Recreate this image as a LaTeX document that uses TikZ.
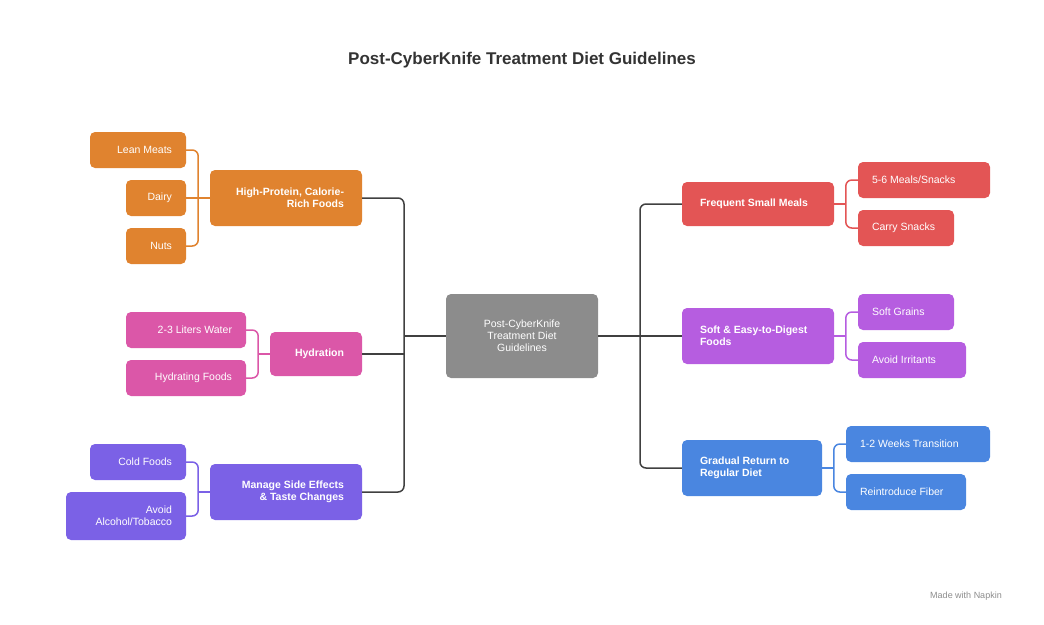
\documentclass[tikz,border=0pt]{standalone}
\usepackage{fontspec}
\setmainfont{Liberation Sans}
\usetikzlibrary{positioning}
\definecolor{corange}{HTML}{E0832F}
\definecolor{cpink}{HTML}{DB57A8}
\definecolor{cpurple}{HTML}{7B61E6}
\definecolor{cred}{HTML}{E35555}
\definecolor{cviolet}{HTML}{B65DE0}
\definecolor{cblue}{HTML}{4A86E0}
\definecolor{cgray}{HTML}{8C8C8C}
\definecolor{cline}{HTML}{404040}
\tikzset{
  box/.style={rectangle, rounded corners=4pt, text=white, inner sep=0pt, font=\fontsize{10.5}{12}\selectfont},
  mainbox/.style={box, font=\bfseries\fontsize{10.5}{12}\selectfont},
  link/.style={line width=1.5pt, rounded corners=6pt},
}
\newcommand{\bx}[7]{% name, x1, y1, x2, y2, colour, style
  \path[fill=#6, rounded corners=5pt] (#2,#3) rectangle (#4,#5);
  \node[#7] (#1) at ({(#2+#4)/2},{(#3+#5)/2}) [minimum width={#4-#2}, minimum height={#5-#3}] {};
}
\begin{document}
\begin{tikzpicture}[x=1pt,y=-1pt]
\useasboundingbox (0,0) rectangle (1044,624);
\node[font=\bfseries\fontsize{17}{20}\selectfont, text=black!80] (title) at (522,60) {Post-CyberKnife Treatment Diet Guidelines};

% boxes
\bx{center}{446}{294}{598}{378}{cgray}{box}
\bx{hp}{210}{170}{362}{226}{corange}{box}
\bx{lean}{90}{132}{186}{168}{corange}{box}
\bx{dairy}{126}{180}{186}{216}{corange}{box}
\bx{nuts}{126}{228}{186}{264}{corange}{box}
\bx{hyd}{270}{332}{362}{376}{cpink}{box}
\bx{water}{126}{312}{246}{348}{cpink}{box}
\bx{hfood}{126}{360}{246}{396}{cpink}{box}
\bx{side}{210}{464}{362}{520}{cpurple}{box}
\bx{cold}{90}{444}{186}{480}{cpurple}{box}
\bx{alc}{66}{492}{186}{540}{cpurple}{box}
\bx{meals}{682}{182}{834}{226}{cred}{box}
\bx{five}{858}{162}{990}{198}{cred}{box}
\bx{carry}{858}{210}{954}{246}{cred}{box}
\bx{soft}{682}{308}{834}{364}{cviolet}{box}
\bx{grains}{858}{294}{954}{330}{cviolet}{box}
\bx{irr}{858}{342}{966}{378}{cviolet}{box}
\bx{grad}{682}{440}{822}{496}{cblue}{box}
\bx{weeks}{846}{426}{990}{462}{cblue}{box}
\bx{fiber}{846}{474}{966}{510}{cblue}{box}

% texts
\node[box, align=center] at (center) {Post-CyberKnife\\Treatment Diet\\Guidelines};
\node[mainbox, align=right, anchor=east] at ([xshift=-18pt]hp.east) {High-Protein, Calorie-\\Rich Foods};
\node[box, anchor=east] at ([xshift=-14pt]lean.east) {Lean Meats};
\node[box, anchor=east] at ([xshift=-14pt]dairy.east) {Dairy};
\node[box, anchor=east] at ([xshift=-14pt]nuts.east) {Nuts};
\node[mainbox, anchor=east] at ([xshift=-18pt]hyd.east) {Hydration};
\node[box, anchor=east] at ([xshift=-14pt]water.east) {2-3 Liters Water};
\node[box, anchor=east] at ([xshift=-14pt]hfood.east) {Hydrating Foods};
\node[mainbox, align=right, anchor=east] at ([xshift=-18pt]side.east) {Manage Side Effects\\\& Taste Changes};
\node[box, anchor=east] at ([xshift=-14pt]cold.east) {Cold Foods};
\node[box, align=right, anchor=east] at ([xshift=-14pt]alc.east) {Avoid\\Alcohol/Tobacco};
\node[mainbox, anchor=west] at ([xshift=18pt]meals.west) {Frequent Small Meals};
\node[box, anchor=west] at ([xshift=14pt]five.west) {5-6 Meals/Snacks};
\node[box, anchor=west] at ([xshift=14pt]carry.west) {Carry Snacks};
\node[mainbox, align=left, anchor=west] at ([xshift=18pt]soft.west) {Soft \& Easy-to-Digest\\Foods};
\node[box, anchor=west] at ([xshift=14pt]grains.west) {Soft Grains};
\node[box, anchor=west] at ([xshift=14pt]irr.west) {Avoid Irritants};
\node[mainbox, align=left, anchor=west] at ([xshift=18pt]grad.west) {Gradual Return to\\Regular Diet};
\node[box, anchor=west] at ([xshift=14pt]weeks.west) {1-2 Weeks Transition};
\node[box, anchor=west] at ([xshift=14pt]fiber.west) {Reintroduce Fiber};

% trunks
\coordinate (ltrunk) at (404,336);
\coordinate (rtrunk) at (640,336);
\draw[link, cline] (hp.east) -| (ltrunk) |- (side.east);
\draw[link, cline] (center.west) -- (ltrunk);
\draw[link, cline] (hyd.east) -- (hyd.east -| ltrunk);
\draw[link, cline] (meals.west) -| (rtrunk) |- (grad.west);
\draw[link, cline] (center.east) -- (rtrunk);
\draw[link, cline] (soft.west) -- (soft.west -| rtrunk);

% brackets
\draw[link, corange] (lean.east) -- ++(12,0) |- (nuts.east);
\draw[link, corange] (hp.west) -- (dairy.east);
\draw[link, cpink] (water.east) -- ++(12,0) |- (hfood.east);
\draw[link, cpink] (hyd.west) -- ++(-12,0);
\draw[link, cpurple] (cold.east) -- ++(12,0) |- (alc.east);
\draw[link, cpurple] (side.west) -- ++(-12,0);
\draw[link, cred] (five.west) -- ++(-12,0) |- (carry.west);
\draw[link, cred] (meals.east) -- ++(12,0);
\draw[link, cviolet] (grains.west) -- ++(-12,0) |- (irr.west);
\draw[link, cviolet] (soft.east) -- ++(12,0);
\draw[link, cblue] (weeks.west) -- ++(-12,0) |- (fiber.west);
\draw[link, cblue] (grad.east) -- ++(12,0);

\node[font=\fontsize{9}{10}\selectfont, text=black!45] (napkin) at (966,596) {Made with Napkin};
\end{tikzpicture}
\end{document}
